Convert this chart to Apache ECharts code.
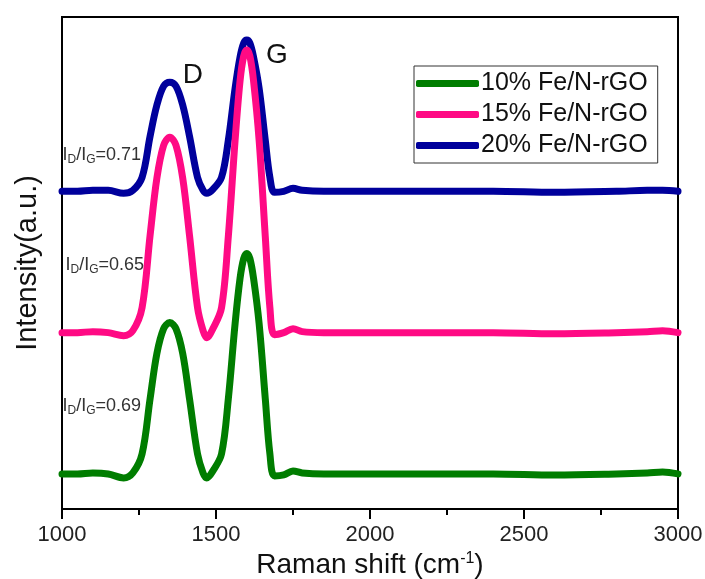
<!DOCTYPE html>
<html>
<head>
<meta charset="utf-8">
<script src="https://cdn.jsdelivr.net/npm/echarts@6/dist/echarts.min.js"></script>
<style>
  html, body { margin: 0; padding: 0; background: #fff; }
  #ramanChart { width: 705px; height: 579px; }
</style>
</head>
<body>
<div id="ramanChart"></div>
<script>
// Raman shift (cm-1), shared by all three spectra
var shift = [1000, 1050, 1100, 1150, 1200, 1230, 1260, 1286, 1308, 1330, 1350, 1370, 1392, 1414, 1440, 1458, 1470, 1490,
  1518, 1540, 1562, 1578, 1590, 1600, 1610, 1622, 1640, 1660, 1675, 1690, 1720, 1750, 1780, 1850, 2000, 2200, 2400, 2600,
  2800, 2900, 2950, 3000];

// intensities (a.u., already offset as in the figure)
var fe10 = [35, 35, 36, 35, 31, 36, 55, 110, 155, 180, 186, 180, 155, 110, 55, 36, 31, 38,
  55, 110, 185, 230, 250, 255, 250, 230, 185, 110, 55, 33, 34, 38, 36, 35, 35, 35, 35, 34,
  35, 36, 37, 35];
var fe15 = [176, 176, 177, 176, 173, 178, 201, 273, 330, 363, 371, 363, 330, 273, 201, 178, 171, 180,
  201, 272, 368, 427, 452, 458, 452, 427, 368, 272, 201, 174, 176, 180, 177, 176, 176, 176, 176, 175,
  176, 177, 178, 176];
var fe20 = [317, 317, 318, 318, 315, 318, 331, 372, 403, 422, 426, 422, 403, 372, 331, 318, 315, 319,
  331, 368, 420, 451, 465, 468, 465, 451, 420, 368, 331, 316, 317, 320, 318, 317, 317, 317, 317, 316,
  317, 318, 318, 317];

var names = ["10% Fe/N-rGO", "15% Fe/N-rGO", "20% Fe/N-rGO"];
var ratios = ["0.69", "0.65", "0.71"];
// where the I_D/I_G notes sit: [shift, intensity]
var ratioPos = [[1000, 103], [1010, 243], [1000, 353]];
var peakNames = ["D", "G"];
var peakPos = [[1425, 433], [1698, 453]];

function pairs(ys) {
  return shift.map(function (x, i) { return [x, ys[i]]; });
}

var ratioRich = {
  m: { fontSize: 18, color: "#333", fontFamily: "Liberation Sans" },
  s: { fontSize: 12, color: "#333", fontFamily: "Liberation Sans", padding: [9, 0, 0, 0] }
};

function ratioMark(k) {
  return {
    symbol: "circle",
    symbolSize: 1,
    silent: true,
    itemStyle: { color: "rgba(0,0,0,0)" },
    data: [{
      coord: ratioPos[k],
      label: {
        show: true,
        position: "right",
        distance: 0,
        offset: [0, 0],
        formatter: "{m|I}{s|D}{m|/I}{s|G}{m|=" + ratios[k] + "}",
        rich: ratioRich
      }
    }]
  };
}

function spectrum(k, ys, color, extraMarks) {
  var mp = ratioMark(k);
  if (extraMarks) mp.data = mp.data.concat(extraMarks);
  return {
    name: names[k],
    type: "line",
    data: pairs(ys),
    showSymbol: false,
    smooth: 0.35,
    lineStyle: { color: color, width: 7, cap: "round", join: "round" },
    itemStyle: { color: color },
    markPoint: mp
  };
}

var peakMarks = peakNames.map(function (p, i) {
  return {
    coord: peakPos[i],
    label: {
      show: true,
      position: "inside",
      formatter: p,
      fontSize: 28,
      color: "#111",
      fontFamily: "Liberation Sans"
    }
  };
});

var chart = echarts.init(document.getElementById("ramanChart"));
chart.setOption({
  animation: false,
  backgroundColor: "#fff",
  grid: {
    left: 62,
    right: 27,
    top: 17,
    bottom: 70,
    outerBoundsMode: "none",
    containLabel: false,
    show: true,
    borderColor: "#000",
    borderWidth: 2
  },
  legend: {
    data: names,
    orient: "vertical",
    left: 414,
    top: 66,
    padding: [5, 10, 5, 2],
    itemGap: 6,
    itemWidth: 63,
    itemHeight: 7,
    icon: "roundRect",
    backgroundColor: "#fff",
    borderColor: "#333",
    borderWidth: 1,
    borderRadius: 0,
    textStyle: { fontSize: 25, color: "#111", fontFamily: "Liberation Sans", padding: [0, 0, 0, -3] }
  },
  xAxis: {
    type: "value",
    min: 1000,
    max: 3000,
    interval: 500,
    name: "{a|Raman shift (cm}{b|-1}{a|)}",
    nameLocation: "middle",
    nameGap: 40,
    nameTextStyle: {
      rich: {
        a: { fontSize: 28, color: "#111", fontFamily: "Liberation Sans" },
        b: { fontSize: 16, color: "#111", fontFamily: "Liberation Sans", padding: [0, 0, 13, 0] }
      }
    },
    axisLine: { lineStyle: { color: "#000", width: 2 } },
    axisTick: { length: 10, inside: false, lineStyle: { color: "#000", width: 2 } },
    minorTick: { show: true, splitNumber: 2, length: 6, lineStyle: { color: "#000", width: 2 } },
    axisLabel: {
      fontSize: 22, color: "#222", margin: 15, fontFamily: "Liberation Sans",
      formatter: function (v) { return String(v); }
    },
    splitLine: { show: false }
  },
  yAxis: {
    type: "value",
    min: 0,
    max: 491,
    name: "Intensity(a.u.)",
    nameLocation: "middle",
    nameGap: 20,
    nameRotate: 90,
    nameTextStyle: { fontSize: 29, color: "#111", fontFamily: "Liberation Sans" },
    axisLine: { show: true, lineStyle: { color: "#000", width: 2 } },
    axisTick: { show: false },
    axisLabel: { show: false },
    splitLine: { show: false }
  },
  series: [
    spectrum(0, fe10, "#007d00"),
    spectrum(2, fe20, "#00009c", peakMarks),
    spectrum(1, fe15, "#ff0a84")
  ]
});
</script>
</body>
</html>
